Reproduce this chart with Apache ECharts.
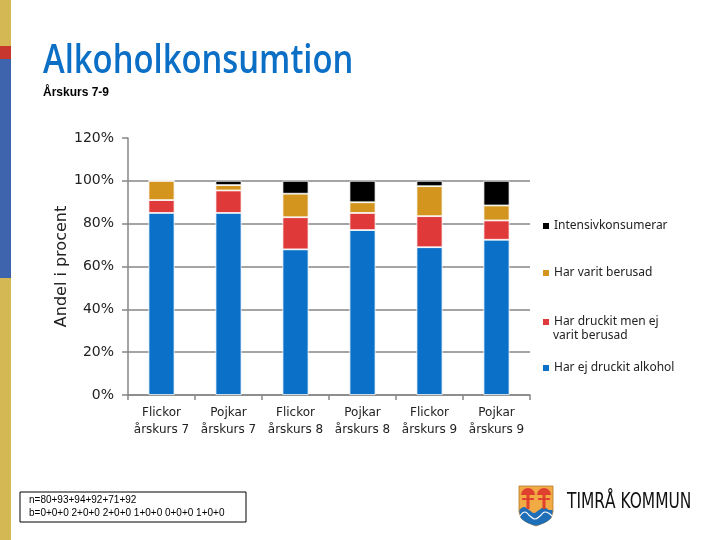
<!DOCTYPE html>
<html>
<head>
<meta charset="utf-8">
<script src="https://cdn.jsdelivr.net/npm/echarts@6/dist/echarts.min.js"></script>
<style>
html,body{margin:0;padding:0;background:#fff;}
#c{width:720px;height:540px;}
</style>
</head>
<body>
<div id="c"></div>
<script>
// ---- data ----
const categories = ['Flickor\nårskurs 7', 'Pojkar\nårskurs 7', 'Flickor\nårskurs 8', 'Pojkar\nårskurs 8', 'Flickor\nårskurs 9', 'Pojkar\nårskurs 9'];
const harEjDruckit = [85, 85, 68, 77, 69, 72.5];
const druckitEjBerusad = [6, 10.5, 15, 8, 14.5, 9];
const varitBerusad = [9, 2.5, 11, 5, 14, 7];
const intensiv = [0, 2, 6, 10, 2.5, 11.5];
const yTicks = [0, 20, 40, 60, 80, 100, 120];
const seriesNames = ['Har ej druckit alkohol', 'Har druckit men ej varit berusad', 'Har varit berusad', 'Intensivkonsumerar'];
const titleText = 'Alkoholkonsumtion';
const subtitleText = 'Årskurs 7-9';
const noteLines = ['n=80+93+94+92+71+92', 'b=0+0+0 2+0+0 2+0+0 1+0+0 0+0+0 1+0+0'];

const colors = ['#0A70C8', '#E0393A', '#D4951F', '#000000'];
const FONT = 'DejaVu Sans';
const LFONT = 'Noto Sans';

const chart = echarts.init(document.getElementById('c'), null, {renderer: 'canvas'});

function mkSeries(name, data, color) {
  return {
    name: name, type: 'bar', stack: 'tot', data: data, barWidth: 26,
    itemStyle: {color: color, borderColor: '#fff', borderWidth: 0.8},
    emphasis: {disabled: true}
  };
}

function legendAt(name, top, label) {
  const l = {
    show: true, data: [name], left: 536, top: top, orient: 'vertical',
    itemWidth: 8, itemHeight: 8, itemGap: 4, icon: 'rect',
    textStyle: {fontFamily: LFONT, fontSize: 12, color: '#222', padding: [0, 0, 0, -1]},
    selectedMode: false
  };
  if (label) l.formatter = function () { return label; };
  return l;
}

const option = {
  backgroundColor: '#fff',
  animation: false,
  legend: [
    legendAt(seriesNames[3], 215),
    legendAt(seriesNames[2], 262),
    legendAt(seriesNames[1], 311, 'Har druckit men ej'),
    legendAt(seriesNames[0], 357)
  ],
  grid: {left: 128, right: 190, top: 138, bottom: 145, containLabel: false},
  xAxis: {
    type: 'category', data: categories,
    axisLine: {show: true, lineStyle: {color: '#868686', width: 1.5}},
    axisTick: {show: true, inside: false, length: 5, lineStyle: {color: '#868686', width: 1.5}},
    axisLabel: {fontFamily: FONT, fontSize: 12, color: '#222', margin: 9, lineHeight: 17, interval: 0}
  },
  yAxis: {
    type: 'value', min: 0, max: 120, interval: 20,
    name: 'Andel i procent', nameLocation: 'middle', nameGap: 58, nameRotate: 90, nameMoveOverlap: false,
    nameTextStyle: {fontFamily: FONT, fontSize: 16, color: '#222'},
    axisLine: {show: true, lineStyle: {color: '#868686', width: 1.5}},
    axisTick: {show: true, inside: false, length: 6, lineStyle: {color: '#868686', width: 1.5}},
    axisLabel: {fontFamily: FONT, fontSize: 14, color: '#222', margin: 14, formatter: function (v) { return v + '%'; }},
    splitLine: {show: true, lineStyle: {color: ['#868686', '#868686', '#868686', '#868686', '#868686', '#868686', 'rgba(0,0,0,0)'], width: 1.5}}
  },
  series: [
    mkSeries(seriesNames[0], harEjDruckit, colors[0]),
    mkSeries(seriesNames[1], druckitEjBerusad, colors[1]),
    mkSeries(seriesNames[2], varitBerusad, colors[2]),
    mkSeries(seriesNames[3], intensiv, colors[3])
  ],
  graphic: [
    // left decorative strip
    {type: 'rect', shape: {x: 0, y: 0, width: 11, height: 46}, style: {fill: '#D4B853'}},
    {type: 'rect', shape: {x: 0, y: 46, width: 11, height: 13}, style: {fill: '#C8372D'}},
    {type: 'rect', shape: {x: 0, y: 59, width: 11, height: 219}, style: {fill: '#3E64AE'}},
    {type: 'rect', shape: {x: 0, y: 278, width: 11, height: 262}, style: {fill: '#D4B853'}},
    // title + subtitle
    {type: 'text', x: 43, y: 62, scaleX: 0.82, style: {text: titleText, font: '600 40px "Open Sans"', fill: '#0B6FC6', verticalAlign: 'middle'}},
    {type: 'text', x: 43, y: 87, style: {text: subtitleText, font: 'bold 12px "Liberation Sans"', fill: '#000'}},
    // second legend line
    {type: 'text', x: 553, y: 330, style: {text: 'varit berusad', font: '12px "Noto Sans"', fill: '#222'}},
    // note box
    {type: 'rect', shape: {x: 20, y: 492, width: 226, height: 30}, style: {fill: '#fff', stroke: '#000', lineWidth: 1}},
    {type: 'text', x: 29, y: 495, style: {text: noteLines[0], font: '10px "Liberation Sans"', fill: '#000'}},
    {type: 'text', x: 29, y: 508, style: {text: noteLines[1], font: '10px "Liberation Sans"', fill: '#000'}},
    // logo shield
    {type: 'polygon', shape: {points: [[519,486],[553,486],[553,512],[551,518],[546,522],[536,526],[526,522],[521,518],[519,512]]}, style: {fill: '#F2AA45', stroke: '#B07A2A', lineWidth: 0.8}},
    {type: 'polygon', shape: {smooth: 0.3, points: [[519.5,510],[524,507],[529,510],[534,513],[539,510],[544,507],[549,510],[552.5,510],[552.5,512],[551,518],[546,522],[536,525.5],[526,522],[521,518],[519.5,512]]}, style: {fill: '#1F6EB8'}},
    {type: 'polyline', shape: {smooth: 0.5, points: [[520,516],[525,512],[530,516],[535,519],[540,516],[545,512],[552,516]]}, style: {fill: 'none', stroke: '#fff', lineWidth: 1.2}},
    {type: 'sector', shape: {cx: 528, cy: 495, r: 7, startAngle: Math.PI, endAngle: 2 * Math.PI, clockwise: true}, style: {fill: '#E0402E'}},
    {type: 'rect', shape: {x: 526.5, y: 494, width: 3, height: 15}, style: {fill: '#E0402E'}},
    {type: 'rect', shape: {x: 522, y: 498, width: 12, height: 2}, style: {fill: '#E0402E'}},
    {type: 'sector', shape: {cx: 544, cy: 495, r: 7, startAngle: Math.PI, endAngle: 2 * Math.PI, clockwise: true}, style: {fill: '#E0402E'}},
    {type: 'rect', shape: {x: 542.5, y: 494, width: 3, height: 15}, style: {fill: '#E0402E'}},
    {type: 'rect', shape: {x: 538, y: 498, width: 12, height: 2}, style: {fill: '#E0402E'}},
    {type: 'text', x: 567, y: 491, scaleX: 0.78, style: {text: 'TIMRÅ KOMMUN', font: '22px "Liberation Sans Narrow", "DejaVu Sans Condensed", sans-serif', fill: '#111'}}
  ]
};
chart.setOption(option);
</script>
</body>
</html>
